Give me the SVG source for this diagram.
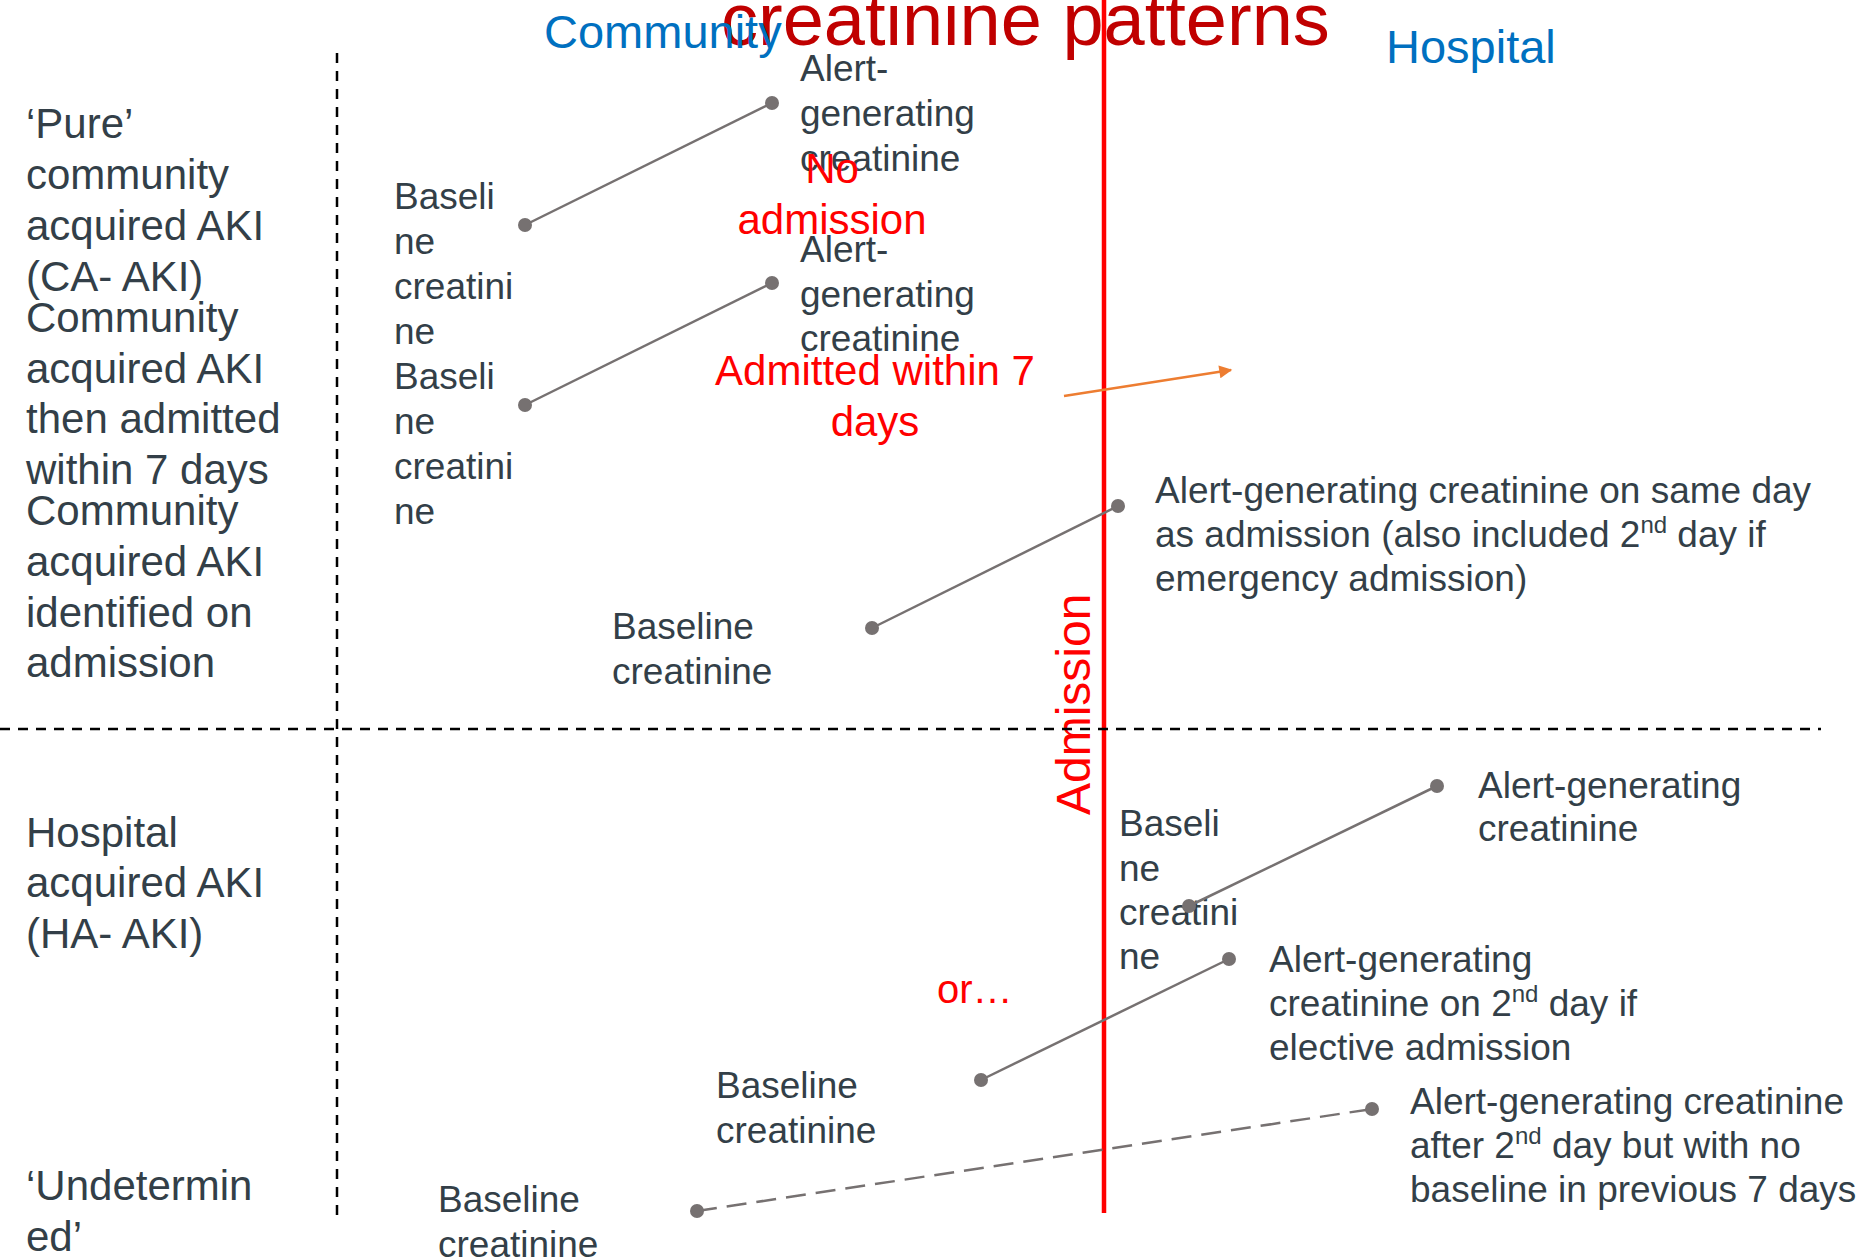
<svg xmlns="http://www.w3.org/2000/svg" width="1876" height="1259" viewBox="0 0 1876 1259">
<style>
text{font-family:"Liberation Sans",Arial,sans-serif;fill:#333F48}
.s37{font-size:37px}
.s42{font-size:42px}
.red{fill:#FF0000}
.blue{fill:#0070C0;font-size:47px}
.title{fill:#C00000;font-size:74px}
.sup{font-size:24px}
.con{stroke:#767171;stroke-width:2.5;fill:none;marker-start:url(#dot);marker-end:url(#dot)}
.grid{stroke:#000;stroke-width:2.5;stroke-dasharray:10 8;fill:none}
</style>
<defs>
<marker id="dot" viewBox="-8 -8 16 16" markerWidth="16" markerHeight="16" markerUnits="userSpaceOnUse" refX="0" refY="0"><circle r="7" fill="#767171"/></marker>
<marker id="arr" viewBox="0 0 10 10" refX="9" refY="5" markerWidth="17" markerHeight="13" markerUnits="userSpaceOnUse" orient="auto"><path d="M0,0 L10,5 L0,10 z" fill="#ED7D31"/></marker>
</defs>
<rect width="1876" height="1259" fill="#fff"/>

<g id="title"><text class="title" x="721" y="45">creatinine patterns</text></g>
<g id="community-header"><text class="blue" x="544" y="48">Community</text></g>
<g id="hospital-header"><text class="blue" x="1386" y="63">Hospital</text></g>

<g id="row-pure" class="s42">
<text class="s42" x="26" y="138">‘Pure’</text>
<text class="s42" x="26" y="189">community</text>
<text class="s42" x="26" y="240">acquired AKI</text>
<text class="s42" x="26" y="291">(CA- AKI)</text>
</g>
<g id="row-admitted7">
<text class="s42" x="26" y="332">Community</text>
<text class="s42" x="26" y="383">acquired AKI</text>
<text class="s42" x="26" y="433">then admitted</text>
<text class="s42" x="26" y="484">within 7 days</text>
</g>
<g id="row-on-admission">
<text class="s42" x="26" y="525">Community</text>
<text class="s42" x="26" y="576">acquired AKI</text>
<text class="s42" x="26" y="627">identified on</text>
<text class="s42" x="26" y="677">admission</text>
</g>
<g id="row-ha">
<text class="s42" x="26" y="847">Hospital</text>
<text class="s42" x="26" y="897">acquired AKI</text>
<text class="s42" x="26" y="948">(HA- AKI)</text>
</g>
<g id="row-undetermined">
<text class="s42" x="26" y="1200">‘Undetermin</text>
<text class="s42" x="26" y="1251">ed’</text>
</g>

<g id="baseline-1"><text class="s37" x="394">
<tspan x="394" y="209">Baseli</tspan><tspan x="394" y="254">ne</tspan><tspan x="394" y="299">creatini</tspan><tspan x="394" y="344">ne</tspan></text></g>
<g id="alert-1"><text class="s37">
<tspan x="800" y="81">Alert-</tspan><tspan x="800" y="126">generating</tspan><tspan x="800" y="171">creatinine</tspan></text></g>
<g id="no-admission"><text class="s42 red" text-anchor="middle">
<tspan x="832" y="183">No</tspan><tspan x="832" y="234">admission</tspan></text></g>

<g id="baseline-2"><text class="s37">
<tspan x="394" y="389">Baseli</tspan><tspan x="394" y="434">ne</tspan><tspan x="394" y="479">creatini</tspan><tspan x="394" y="524">ne</tspan></text></g>
<g id="alert-2"><text class="s37">
<tspan x="800" y="262">Alert-</tspan><tspan x="800" y="307">generating</tspan><tspan x="800" y="351">creatinine</tspan></text></g>
<g id="admitted-within-7"><text class="s42 red" text-anchor="middle">
<tspan x="875" y="385">Admitted within 7</tspan><tspan x="875" y="436">days</tspan></text></g>

<g id="baseline-3"><text class="s37">
<tspan x="612" y="639">Baseline</tspan><tspan x="612" y="684">creatinine</tspan></text></g>
<g id="alert-3"><text class="s37">
<tspan x="1155" y="503">Alert-generating creatinine on same day</tspan>
<tspan x="1155" y="547">as admission (also included 2<tspan class="sup" dy="-14">nd</tspan><tspan dy="14"> day if</tspan></tspan>
<tspan x="1155" y="591">emergency admission)</tspan></text></g>

<g id="baseline-4"><text class="s37">
<tspan x="1119" y="836">Baseli</tspan><tspan x="1119" y="881">ne</tspan><tspan x="1119" y="925">creatini</tspan><tspan x="1119" y="969">ne</tspan></text></g>
<g id="alert-4"><text class="s37">
<tspan x="1478" y="798">Alert-generating</tspan><tspan x="1478" y="841">creatinine</tspan></text></g>

<g id="or"><text class="red" style="font-size:40px" x="937" y="1003">or…</text></g>

<g id="baseline-5"><text class="s37">
<tspan x="716" y="1098">Baseline</tspan><tspan x="716" y="1143">creatinine</tspan></text></g>
<g id="alert-5"><text class="s37">
<tspan x="1269" y="972">Alert-generating</tspan>
<tspan x="1269" y="1016">creatinine on 2<tspan class="sup" dy="-14">nd</tspan><tspan dy="14"> day if</tspan></tspan>
<tspan x="1269" y="1060">elective admission</tspan></text></g>

<g id="baseline-6"><text class="s37">
<tspan x="438" y="1212">Baseline</tspan><tspan x="438" y="1257">creatinine</tspan></text></g>
<g id="alert-6"><text class="s37">
<tspan x="1410" y="1114">Alert-generating creatinine</tspan>
<tspan x="1410" y="1158">after 2<tspan class="sup" dy="-14">nd</tspan><tspan dy="14"> day but with no</tspan></tspan>
<tspan x="1410" y="1202">baseline in previous 7 days</tspan></text></g>

<g id="admission-line">
<text class="red" style="font-size:48px" transform="translate(1090,815) rotate(-90)">Admission</text>
<line x1="1104" y1="0" x2="1104" y2="1213" stroke="#FF0000" stroke-width="4.5"/>
</g>

<g id="gridlines">
<line class="grid" x1="337" y1="53" x2="337" y2="1215"/>
<line class="grid" x1="0" y1="729" x2="1821" y2="729"/>
</g>

<g id="connectors">
<line class="con" x1="525" y1="225" x2="772" y2="103"/>
<line class="con" x1="525" y1="405" x2="772" y2="283"/>
<line class="con" x1="872" y1="628" x2="1118" y2="506"/>
<line class="con" x1="1189" y1="906" x2="1437" y2="786"/>
<line class="con" x1="981" y1="1080" x2="1229" y2="959"/>
<line class="con" x1="697" y1="1211" x2="1372" y2="1109" stroke-dasharray="20 10"/>
<line x1="1064" y1="396" x2="1231" y2="370" stroke="#ED7D31" stroke-width="2.5" marker-end="url(#arr)"/>
</g>
</svg>
